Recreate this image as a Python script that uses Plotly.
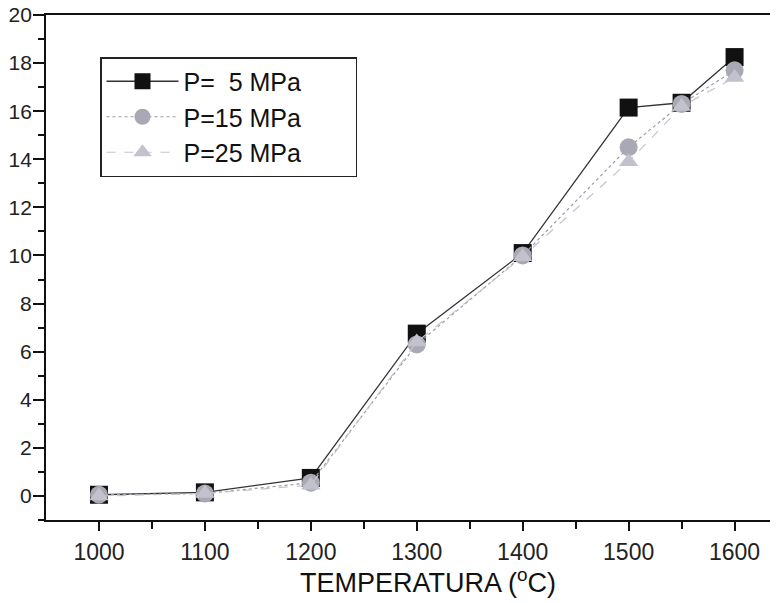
import plotly.graph_objects as go

temps = [1000, 1100, 1200, 1300, 1400, 1500, 1550, 1600]
p5 = [0.05, 0.15, 0.75, 6.75, 10.1, 16.15, 16.35, 18.25]
p15 = [0.05, 0.1, 0.55, 6.3, 10.0, 14.5, 16.3, 17.7]
p25 = [0.0, 0.1, 0.45, 6.4, 9.95, 13.9, 16.2, 17.4]
names = ["P=\u00a0\u00a05 MPa", "P=15 MPa", "P=25 MPa"]
x_ticks = [1000, 1100, 1200, 1300, 1400, 1500, 1600]
x_minor = [1050, 1150, 1250, 1350, 1450, 1550]

PAD = "\u00a0" * 7  # extra room at the right of the legend box

# page has an 8px body margin; figure placed so plot area matches reference
OFF = 8
W, H = 778 - OFF, 603 - OFF
L, R, T = 46 - OFF, 0, 15 - OFF
B = H - (520 - OFF)
pw, ph = W - L - R, H - T - B

fig = go.Figure()
fig.add_trace(go.Scatter(x=temps, y=p5, name=names[0] + PAD, mode="lines+markers",
                         line=dict(color="#333333", width=1.3),
                         marker=dict(symbol="square", size=18, color="#111111")))
fig.add_trace(go.Scatter(x=temps, y=p15, name=names[1] + PAD, mode="lines+markers",
                         line=dict(color="#9a9aa8", width=1.2, dash="dot"),
                         marker=dict(symbol="circle", size=18, color="#a9a9b6")))
fig.add_trace(go.Scatter(x=temps, y=p25, name=names[2] + PAD, mode="lines+markers",
                         line=dict(color="#c4c4cc", width=1.2, dash="dash"),
                         marker=dict(symbol="triangle-up", size=17, color="#c2c2cc")))

fig.update_layout(
    width=W, height=H,
    margin=dict(l=L, r=R, t=T, b=B, autoexpand=False),
    paper_bgcolor="white", plot_bgcolor="white",
    font=dict(family="Arial, Liberation Sans, sans-serif", color="#111111"),
    showlegend=True,
    legend=dict(x=(100 - 46) / pw, y=1 - (57 - 15) / ph, xanchor="left", yanchor="top",
                bgcolor="white", bordercolor="#222222", borderwidth=1.5,
                font=dict(size=25, color="#111111"), itemwidth=72,
                tracegroupgap=0),
    xaxis=dict(range=[950, 1641], tickmode="array", tickvals=x_ticks,
               ticks="outside", ticklen=9, tickwidth=2, tickcolor="#111",
               minor=dict(tickvals=x_minor, ticks="outside", ticklen=7,
                          tickwidth=2, tickcolor="#111"),
               showline=True, linecolor="#111", linewidth=2, mirror=True,
               showgrid=False, zeroline=False, automargin=False,
               ticklabelstandoff=1, ticklabeloverflow="allow",
               tickfont=dict(size=23, color="#222")),
    yaxis=dict(range=[-1, 20], tick0=0, dtick=2,
               ticks="outside", ticklen=11, tickwidth=2, tickcolor="#111",
               minor=dict(tick0=1, dtick=2, ticks="outside", ticklen=6,
                          tickwidth=2, tickcolor="#111"),
               showline=True, linecolor="#111", linewidth=2, mirror=False,
               showgrid=False, zeroline=False, automargin=False,
               ticklabelstandoff=-3, ticklabeloverflow="allow",
               tickfont=dict(size=21, color="#222")),
    annotations=[dict(text="TEMPERATURA (<sup>o</sup>C)",
                      x=(428 - 46) / pw, y=-(581 - 520) / ph,
                      xref="paper", yref="paper", yanchor="middle",
                      showarrow=False, font=dict(size=27, color="#111"))],
)

fig.write_html("out.html")
